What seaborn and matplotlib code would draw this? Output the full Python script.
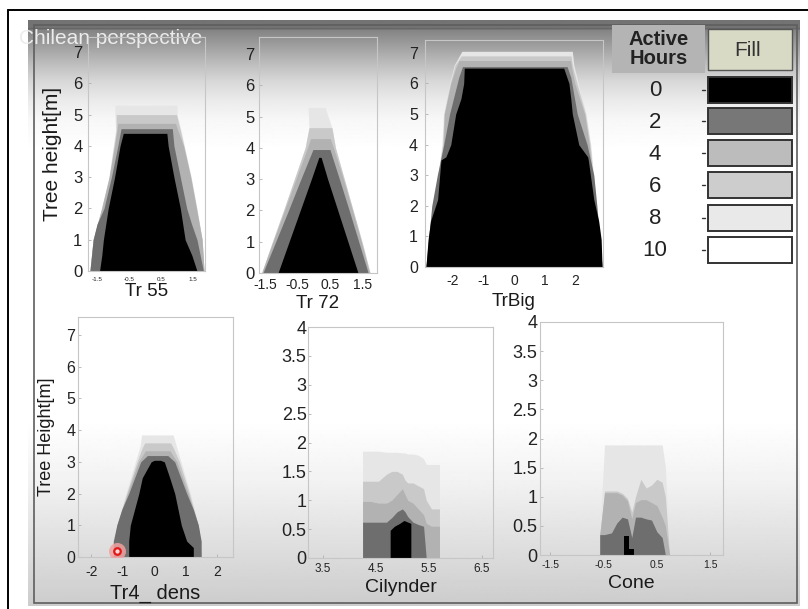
import numpy as np
import matplotlib
matplotlib.use("Agg")
import matplotlib.pyplot as plt
import seaborn as sns
from matplotlib.patches import Rectangle
from matplotlib.ticker import FuncFormatter

# ------------------------------------------------------------------ data
hours = [0, 2, 4, 6, 8, 10]
hour_labels = ["0", "2", "4", "6", "8", "10"]

# Tr 55 : heights / left edge / right edge of each activity level
tr55_h8 = [0, 1.0, 2.0, 3.0, 4.5, 5.0, 5.3]
tr55_l8 = [-1.72, -1.62, -1.36, -1.13, -0.92, -0.94, -0.94]
tr55_r8 = [1.84, 1.78, 1.62, 1.44, 1.12, 1.0, 1.0]
tr55_h6 = [0, 1.0, 2.0, 3.0, 4.5, 5.0]
tr55_l6 = [-1.72, -1.62, -1.36, -1.12, -0.9, -0.9]
tr55_r6 = [1.84, 1.78, 1.61, 1.43, 1.1, 0.98]
tr55_h4 = [0, 1.0, 2.0, 3.0, 4.0, 4.5, 4.72]
tr55_l4 = [-1.72, -1.62, -1.35, -1.12, -0.95, -0.88, -0.85]
tr55_r4 = [1.84, 1.78, 1.6, 1.42, 1.2, 1.02, 0.95]
tr55_h2 = [0, 1.0, 1.5, 2.0, 3.0, 4.0, 4.55]
tr55_l2 = [-1.72, -1.62, -1.5, -1.28, -1.05, -0.85, -0.75]
tr55_r2 = [1.82, 1.62, 1.45, 1.3, 1.1, 0.9, 0.85]
tr55_h0 = [0, 0.5, 1.0, 2.0, 3.0, 4.0, 4.4]
tr55_l0 = [-1.42, -1.35, -1.3, -1.15, -0.95, -0.78, -0.68]
tr55_r0 = [1.62, 1.46, 1.25, 1.1, 0.9, 0.72, 0.68]

# Tr 72
tr72_h8 = [0, 1.0, 2.0, 3.0, 4.0, 4.65, 5.3]
tr72_l8 = [-1.6, -1.27, -0.93, -0.6, -0.27, -0.15, -0.18]
tr72_r8 = [1.72, 1.47, 1.2, 0.93, 0.66, 0.55, 0.34]
tr72_h6 = [0, 1.0, 2.0, 3.0, 4.0, 4.65]
tr72_l6 = [-1.6, -1.27, -0.93, -0.6, -0.27, -0.15]
tr72_r6 = [1.72, 1.47, 1.2, 0.93, 0.66, 0.55]
tr72_h4 = [0, 1.0, 2.0, 3.0, 4.0, 4.3]
tr72_l4 = [-1.6, -1.25, -0.9, -0.55, -0.2, -0.1]
tr72_r4 = [1.7, 1.45, 1.18, 0.9, 0.6, 0.5]
tr72_h2 = [0, 1.0, 2.0, 3.0, 3.95]
tr72_l2 = [-1.56, -1.17, -0.78, -0.4, -0.03]
tr72_r2 = [1.66, 1.37, 1.08, 0.78, 0.49]
tr72_h0 = [0, 1.0, 2.0, 3.0, 3.7]
tr72_l0 = [-1.1, -0.76, -0.42, -0.08, 0.15]
tr72_r0 = [1.35, 1.04, 0.73, 0.42, 0.22]

# TrBig
big_h8 = [0, 4.0, 5.0, 6.0, 6.6, 7.05]
big_l8 = [-2.87, -2.35, -2.3, -2.1, -1.95, -1.7]
big_r8 = [2.87, 2.5, 2.35, 2.1, 1.95, 1.9]
big_h6 = [0, 4.0, 5.0, 6.0, 6.6, 6.9]
big_l6 = [-2.87, -2.33, -2.28, -2.08, -1.92, -1.72]
big_r6 = [2.87, 2.48, 2.33, 2.05, 1.9, 1.86]
big_h4 = [0, 4.0, 5.0, 6.0, 6.5, 6.75]
big_l4 = [-2.87, -2.3, -2.27, -2.06, -1.9, -1.79]
big_r4 = [2.87, 2.45, 2.3, 1.98, 1.88, 1.84]
big_h2 = [0, 2.0, 3.0, 4.0, 5.0, 6.2, 6.55]
big_l2 = [-2.87, -2.68, -2.5, -2.29, -2.1, -1.8, -1.68]
big_r2 = [2.87, 2.7, 2.6, 2.38, 2.06, 1.85, 1.73]
big_h0 = [0, 0.9, 1.5, 2.2, 3.5, 3.6, 4.0, 5.0, 5.5, 6.0, 6.5]
big_l0 = [-2.87, -2.8, -2.72, -2.49, -2.38, -2.22, -2.06, -1.9, -1.73, -1.64, -1.62]
big_r0 = [2.87, 2.84, 2.76, 2.6, 2.42, 2.4, 2.11, 1.9, 1.85, 1.79, 1.62]

# Tr4_ dens
den_h8 = [0, 1.0, 2.0, 3.0, 3.5, 3.85]
den_l8 = [-1.3, -1.19, -0.9, -0.6, -0.45, -0.4]
den_r8 = [1.49, 1.4, 1.15, 0.85, 0.7, 0.6]
den_h6 = [0, 1.0, 2.0, 3.0, 3.45, 3.6]
den_l6 = [-1.3, -1.19, -0.88, -0.55, -0.38, -0.3]
den_r6 = [1.49, 1.4, 1.12, 0.8, 0.6, 0.52]
den_h4 = [0, 1.0, 2.0, 3.0, 3.35]
den_l4 = [-1.3, -1.19, -0.85, -0.5, -0.28]
den_r4 = [1.49, 1.4, 1.08, 0.72, 0.5]
den_h2 = [0, 0.5, 1.0, 1.5, 2.0, 3.0, 3.2]
den_l2 = [-1.3, -1.3, -1.19, -1.03, -0.81, -0.43, -0.22]
den_r2 = [1.49, 1.49, 1.4, 1.24, 1.03, 0.65, 0.43]
den_h0 = [0, 0.3, 0.5, 1.0, 2.0, 2.5, 3.0, 3.05]
den_l0 = [-0.81, -0.81, -0.81, -0.76, -0.49, -0.38, -0.1, 0.0]
den_r0 = [1.24, 1.24, 1.03, 0.86, 0.65, 0.49, 0.32, 0.2]
marker_x = [-1.17]
marker_y = [0.19]

# Cilynder : x positions and top height of each level
cyl_x = [4.25, 4.4, 4.55, 4.7, 4.8, 4.9, 5.0, 5.05, 5.1, 5.2, 5.3, 5.4, 5.45, 5.55, 5.7]
cyl_t8 = [1.85, 1.85, 1.85, 1.83, 1.83, 1.83, 1.82, 1.82, 1.8, 1.8, 1.78, 1.72, 1.62, 1.62, 1.62]
cyl_t6 = [1.33, 1.33, 1.33, 1.45, 1.5, 1.5, 1.45, 1.35, 1.3, 1.3, 1.25, 1.2, 1.0, 0.85, 0.85]
cyl_t4 = [0.98, 0.98, 0.95, 0.95, 1.0, 1.1, 1.2, 1.1, 1.0, 0.95, 0.85, 0.75, 0.6, 0.55, 0.55]
cyl_t2 = [0.62, 0.62, 0.62, 0.62, 0.7, 0.8, 0.85, 0.8, 0.72, 0.62, 0.58, 0.55, 0, 0, 0]
cyl_x0 = [4.77, 4.85, 4.95, 5.03, 5.16]
cyl_t0 = [0.48, 0.55, 0.6, 0.65, 0.6]

# Cone
cone_x = [-0.57, -0.48, -0.35, -0.25, -0.15, -0.05, 0.03, 0.1, 0.2, 0.3, 0.4, 0.5, 0.6, 0.66, 0.74]
cone_t8 = [0.35, 1.89, 1.89, 1.89, 1.89, 1.89, 1.89, 1.89, 1.89, 1.89, 1.89, 1.89, 1.89, 1.5, 0.0]
cone_t6 = [0.35, 1.1, 1.1, 1.1, 1.06, 0.97, 0.74, 1.0, 1.3, 1.15, 1.2, 1.3, 1.25, 1.0, 0.0]
cone_t4 = [0.35, 1.07, 1.07, 1.07, 1.03, 0.93, 0.62, 0.9, 0.95, 0.95, 0.9, 0.85, 0.65, 0.5, 0.0]
cone_t2 = [0.35, 0.35, 0.38, 0.55, 0.65, 0.62, 0.3, 0.65, 0.65, 0.62, 0.6, 0.4, 0.3, 0.0, 0.0]
cone_x0 = [-0.11, -0.02, 0.08]
cone_t0 = [0.33, 0.1, 0.1]

# ------------------------------------------------------------------ style
sns.set_theme(style="white")
plt.rcParams["font.family"] = ["Liberation Sans", "DejaVu Sans"]
plt.rcParams["axes.unicode_minus"] = False
NARROW = ["Liberation Sans Narrow", "Liberation Sans", "DejaVu Sans"]

level_colors = {0: "#000000", 2: "#6e6e6e", 4: "#b2b2b2", 6: "#c9c9c9", 8: "#e6e6e6"}
swatch_colors = ["#000000", "#777777", "#bcbcbc", "#cdcdcd", "#e9e9e9", "#ffffff"]

W, H = 808, 609
fig = plt.figure(figsize=(W / 100, H / 100), dpi=100)
fig.patch.set_facecolor("white")

# background (screenshot) axes in pixel coordinates
bg = fig.add_axes([0, 0, 1, 1])
bg.axis("off")
gy = np.arange(20, 607)
gv = np.interp(gy, [20, 27, 28, 30, 45, 60, 80, 100, 120, 150, 420, 480, 540, 606],
               [0.45, 0.45, 0.40, 0.52, 0.62, 0.72, 0.84, 0.92, 0.97, 1.0, 1.0, 0.95, 0.88, 0.80])
bg.imshow(gv[:, None], extent=[28, 800, 606, 20], cmap="gray", vmin=0, vmax=1,
          aspect="auto", interpolation="bilinear", zorder=0)
bg.add_patch(Rectangle((33.5, 25), 797 - 33.5, 603 - 25, fill=False, ec="#5e5e5e", lw=1.2, zorder=1))
bg.plot([8, 8], [10, 609], color="black", lw=1.4, zorder=3)
bg.plot([8, 808], [10, 10], color="black", lw=1.4, zorder=3)
bg.set_xlim(0, W)
bg.set_ylim(H, 0)

title = bg.text(19, 38, "Chilean perspective", fontsize=15, color="#ececec",
                ha="left", va="center", zorder=2)
title.set_clip_path(Rectangle((28, 20), 772, 586, transform=bg.transData))

# legend
bg.add_patch(Rectangle((612, 25), 93, 48, fc="#b4b4b4", ec="none", zorder=1))
bg.text(659, 49, "Active\nHours", fontsize=14.5, fontweight="bold", color="#222222",
        ha="center", va="center", linespacing=0.95, zorder=2)
bg.add_patch(Rectangle((708, 29), 84, 41, fc="#d8dac6", ec="#555555", lw=1.0, zorder=1))
bg.text(748, 50, "Fill", fontsize=15, family=NARROW, color="#333333",
        ha="center", va="center", zorder=2)
row_top = [77, 108, 140, 172, 205, 237]
for lab, col, yt in zip(hour_labels, swatch_colors, row_top):
    bg.add_patch(Rectangle((708, yt), 84, 26, fc=col, ec="#333333", lw=1.4, zorder=2))
    bg.text(655, yt + 14, lab, fontsize=16, family=NARROW, color="#222222",
            ha="center", va="center", zorder=2)
    bg.plot([702, 705], [yt + 13, yt + 13], color="#333333", lw=1, zorder=2)


def make_ax(l, t, r, b):
    return fig.add_axes([l / W, 1 - b / H, (r - l) / W, (b - t) / H])


def style_ax(ax, xlim, ylim, xticks, yticks, xfs, yfs, xpad, ypad):
    ax.set_facecolor("none")
    ax.set_xlim(*xlim)
    ax.set_ylim(*ylim)
    ax.set_xticks(xticks)
    ax.set_yticks(yticks)
    fmt = FuncFormatter(lambda v, p: f"{v:g}")
    ax.xaxis.set_major_formatter(fmt)
    ax.yaxis.set_major_formatter(fmt)
    for s in ax.spines.values():
        s.set_visible(True)
        s.set_color("#c6c6c6")
        s.set_linewidth(0.8)
    ax.tick_params(axis="x", direction="in", length=2, width=0.6, color="#b0b0b0",
                   labelsize=xfs, pad=xpad, labelcolor="#222222", bottom=True)
    ax.tick_params(axis="y", direction="in", length=2, width=0.6, color="#b0b0b0",
                   labelsize=yfs, pad=ypad, labelcolor="#222222", left=True)
    ax.grid(False)


def set_labels(ax, xlabel, xsize, xy, ylabel=None, ysize=None, yx=None):
    ax.set_xlabel(xlabel, fontsize=xsize, color="#1a1a1a", va="center")
    ax.xaxis.set_label_coords(0.5, xy)
    if ylabel:
        ax.set_ylabel(ylabel, fontsize=ysize, color="#1a1a1a", va="center")
        ax.yaxis.set_label_coords(yx, 0.5)


def profile(ax, levels):
    for lev, (h, l, r) in levels:
        ax.fill_betweenx(h, l, r, color=level_colors[lev], lw=0)


def columns(ax, levels):
    for lev, (x, t) in levels:
        ax.fill_between(x, 0, t, color=level_colors[lev], lw=0)


# Tr 55
ax1 = make_ax(88, 37, 205, 271)
profile(ax1, [(8, (tr55_h8, tr55_l8, tr55_r8)), (6, (tr55_h6, tr55_l6, tr55_r6)),
              (4, (tr55_h4, tr55_l4, tr55_r4)), (2, (tr55_h2, tr55_l2, tr55_r2)),
              (0, (tr55_h0, tr55_l0, tr55_r0))])
style_ax(ax1, (-1.78, 1.87), (0, 7.48), [-1.5, -0.5, 0.5, 1.5], range(0, 8), 4.5, 12, 4, 4)
set_labels(ax1, "Tr 55", 13.5, -(292 - 271) / 234, "Tree height[m]", 15, (53 - 88) / 117)

# Tr 72
ax2 = make_ax(259, 37, 377, 273)
profile(ax2, [(8, (tr72_h8, tr72_l8, tr72_r8)), (6, (tr72_h6, tr72_l6, tr72_r6)),
              (4, (tr72_h4, tr72_l4, tr72_r4)), (2, (tr72_h2, tr72_l2, tr72_r2)),
              (0, (tr72_h0, tr72_l0, tr72_r0))])
style_ax(ax2, (-1.68, 1.93), (0, 7.55), [-1.5, -0.5, 0.5, 1.5], range(0, 8), 10, 12, 3.5, 3)
set_labels(ax2, "Tr 72", 13.5, -(304 - 273) / 236)

# TrBig
ax3 = make_ax(425, 40, 603, 267)
profile(ax3, [(8, (big_h8, big_l8, big_r8)), (6, (big_h6, big_l6, big_r6)),
              (4, (big_h4, big_l4, big_r4)), (2, (big_h2, big_l2, big_r2)),
              (0, (big_h0, big_l0, big_r0))])
style_ax(ax3, (-2.9, 2.9), (0, 7.42), [-2, -1, 0, 1, 2], range(0, 8), 10, 11.5, 5, 5)
set_labels(ax3, "TrBig", 13.5, -(302 - 267) / 227)

# Tr4_ dens
ax4 = make_ax(78, 317, 233, 557)
profile(ax4, [(8, (den_h8, den_l8, den_r8)), (6, (den_h6, den_l6, den_r6)),
              (4, (den_h4, den_l4, den_r4)), (2, (den_h2, den_l2, den_r2)),
              (0, (den_h0, den_l0, den_r0))])
ax4.scatter(marker_x, marker_y, s=150, color="#f2a0a0", alpha=0.85, lw=0, zorder=5)
ax4.scatter(marker_x, marker_y, s=22, facecolor="#ffd8d8", edgecolor="#e01818", lw=1.6, zorder=6)
style_ax(ax4, (-2.42, 2.5), (0, 7.57), [-2, -1, 0, 1, 2], range(0, 8), 10, 11.5, 6, 2)
set_labels(ax4, "Tr4_ dens", 14.5, -(593 - 557) / 240, "Tree Height[m]", 13, (47 - 78) / 155)

# Cilynder
ax5 = make_ax(308, 327, 493, 558)
columns(ax5, [(8, (cyl_x, cyl_t8)), (6, (cyl_x, cyl_t6)), (4, (cyl_x, cyl_t4)),
              (2, (cyl_x, cyl_t2)), (0, (cyl_x0, cyl_t0))])
style_ax(ax5, (3.22, 6.71), (0, 4), [3.5, 4.5, 5.5, 6.5], np.arange(0, 4.01, 0.5), 8.5, 13, 3.6, 1)
set_labels(ax5, "Cilynder", 14, -(588 - 558) / 231)

# Cone
ax6 = make_ax(540, 322, 723, 555)
columns(ax6, [(8, (cone_x, cone_t8)), (6, (cone_x, cone_t6)), (4, (cone_x, cone_t4)),
              (2, (cone_x, cone_t2))])
ax6.fill_between(cone_x0, 0, cone_t0, step="post", color=level_colors[0], lw=0)
style_ax(ax6, (-1.69, 1.74), (0, 4), [-1.5, -0.5, 0.5, 1.5], np.arange(0, 4.01, 0.5), 7.5, 13, 3.6, 2)
set_labels(ax6, "Cone", 14, -(583 - 555) / 233)

fig.savefig("out.png", dpi=100)
